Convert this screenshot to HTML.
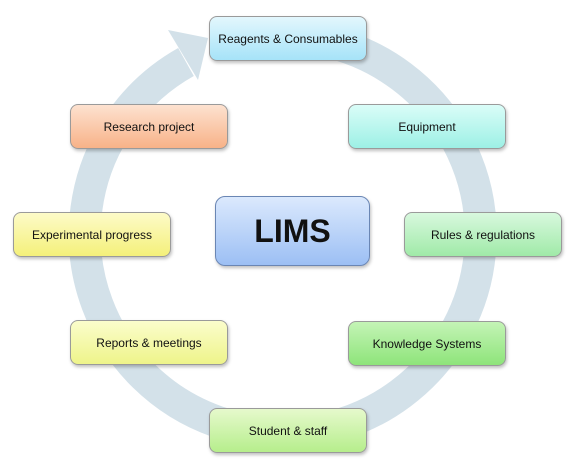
<!DOCTYPE html>
<html><head><meta charset="utf-8"><style>
body{margin:0;background:#fff;width:581px;height:471px;overflow:hidden;font-family:"Liberation Sans",sans-serif}
.b{position:absolute;width:158px;height:45px;border:1px solid #9a9a9a;border-radius:8px;display:flex;align-items:center;justify-content:center;font-size:12px;color:#111;box-shadow:1px 2px 3px rgba(0,0,0,.25);box-sizing:border-box}
</style></head><body>
<svg width="581" height="471" style="position:absolute;left:0;top:0">
<path d="M 323.4 41 A 198 198 0 1 1 186 62" fill="none" stroke="#d3e1e9" stroke-width="32"/>
<polygon points="168,30 208,38 198,80" fill="#d3e1e9"/>
</svg>
<div class="b" style="left:209px;top:16px;background:linear-gradient(#e3f7fd,#a6e3f8)">Reagents &amp; Consumables</div>
<div class="b" style="left:348px;top:104px;background:linear-gradient(#dafdf8,#9df0e5)">Equipment</div>
<div class="b" style="left:404px;top:212px;background:linear-gradient(#d8f8de,#a0eaa8)">Rules &amp; regulations</div>
<div class="b" style="left:348px;top:321px;background:linear-gradient(#c4f4b6,#8ee47a)">Knowledge Systems</div>
<div class="b" style="left:209px;top:408px;background:linear-gradient(#e6f9cc,#b6ee8c)">Student &amp; staff</div>
<div class="b" style="left:70px;top:320px;background:linear-gradient(#fbfdcc,#eef48a)">Reports &amp; meetings</div>
<div class="b" style="left:13px;top:212px;background:linear-gradient(#fdfbc8,#f4f07a)">Experimental progress</div>
<div class="b" style="left:70px;top:104px;background:linear-gradient(#fde2d0,#f8b288)">Research project</div>
<div class="b" style="left:215px;top:196px;width:155px;height:70px;border-color:#6a86b4;background:linear-gradient(#dbe9fd,#9cbff4);font-size:32px;font-weight:bold;border-radius:10px">LIMS</div>
</body></html>
